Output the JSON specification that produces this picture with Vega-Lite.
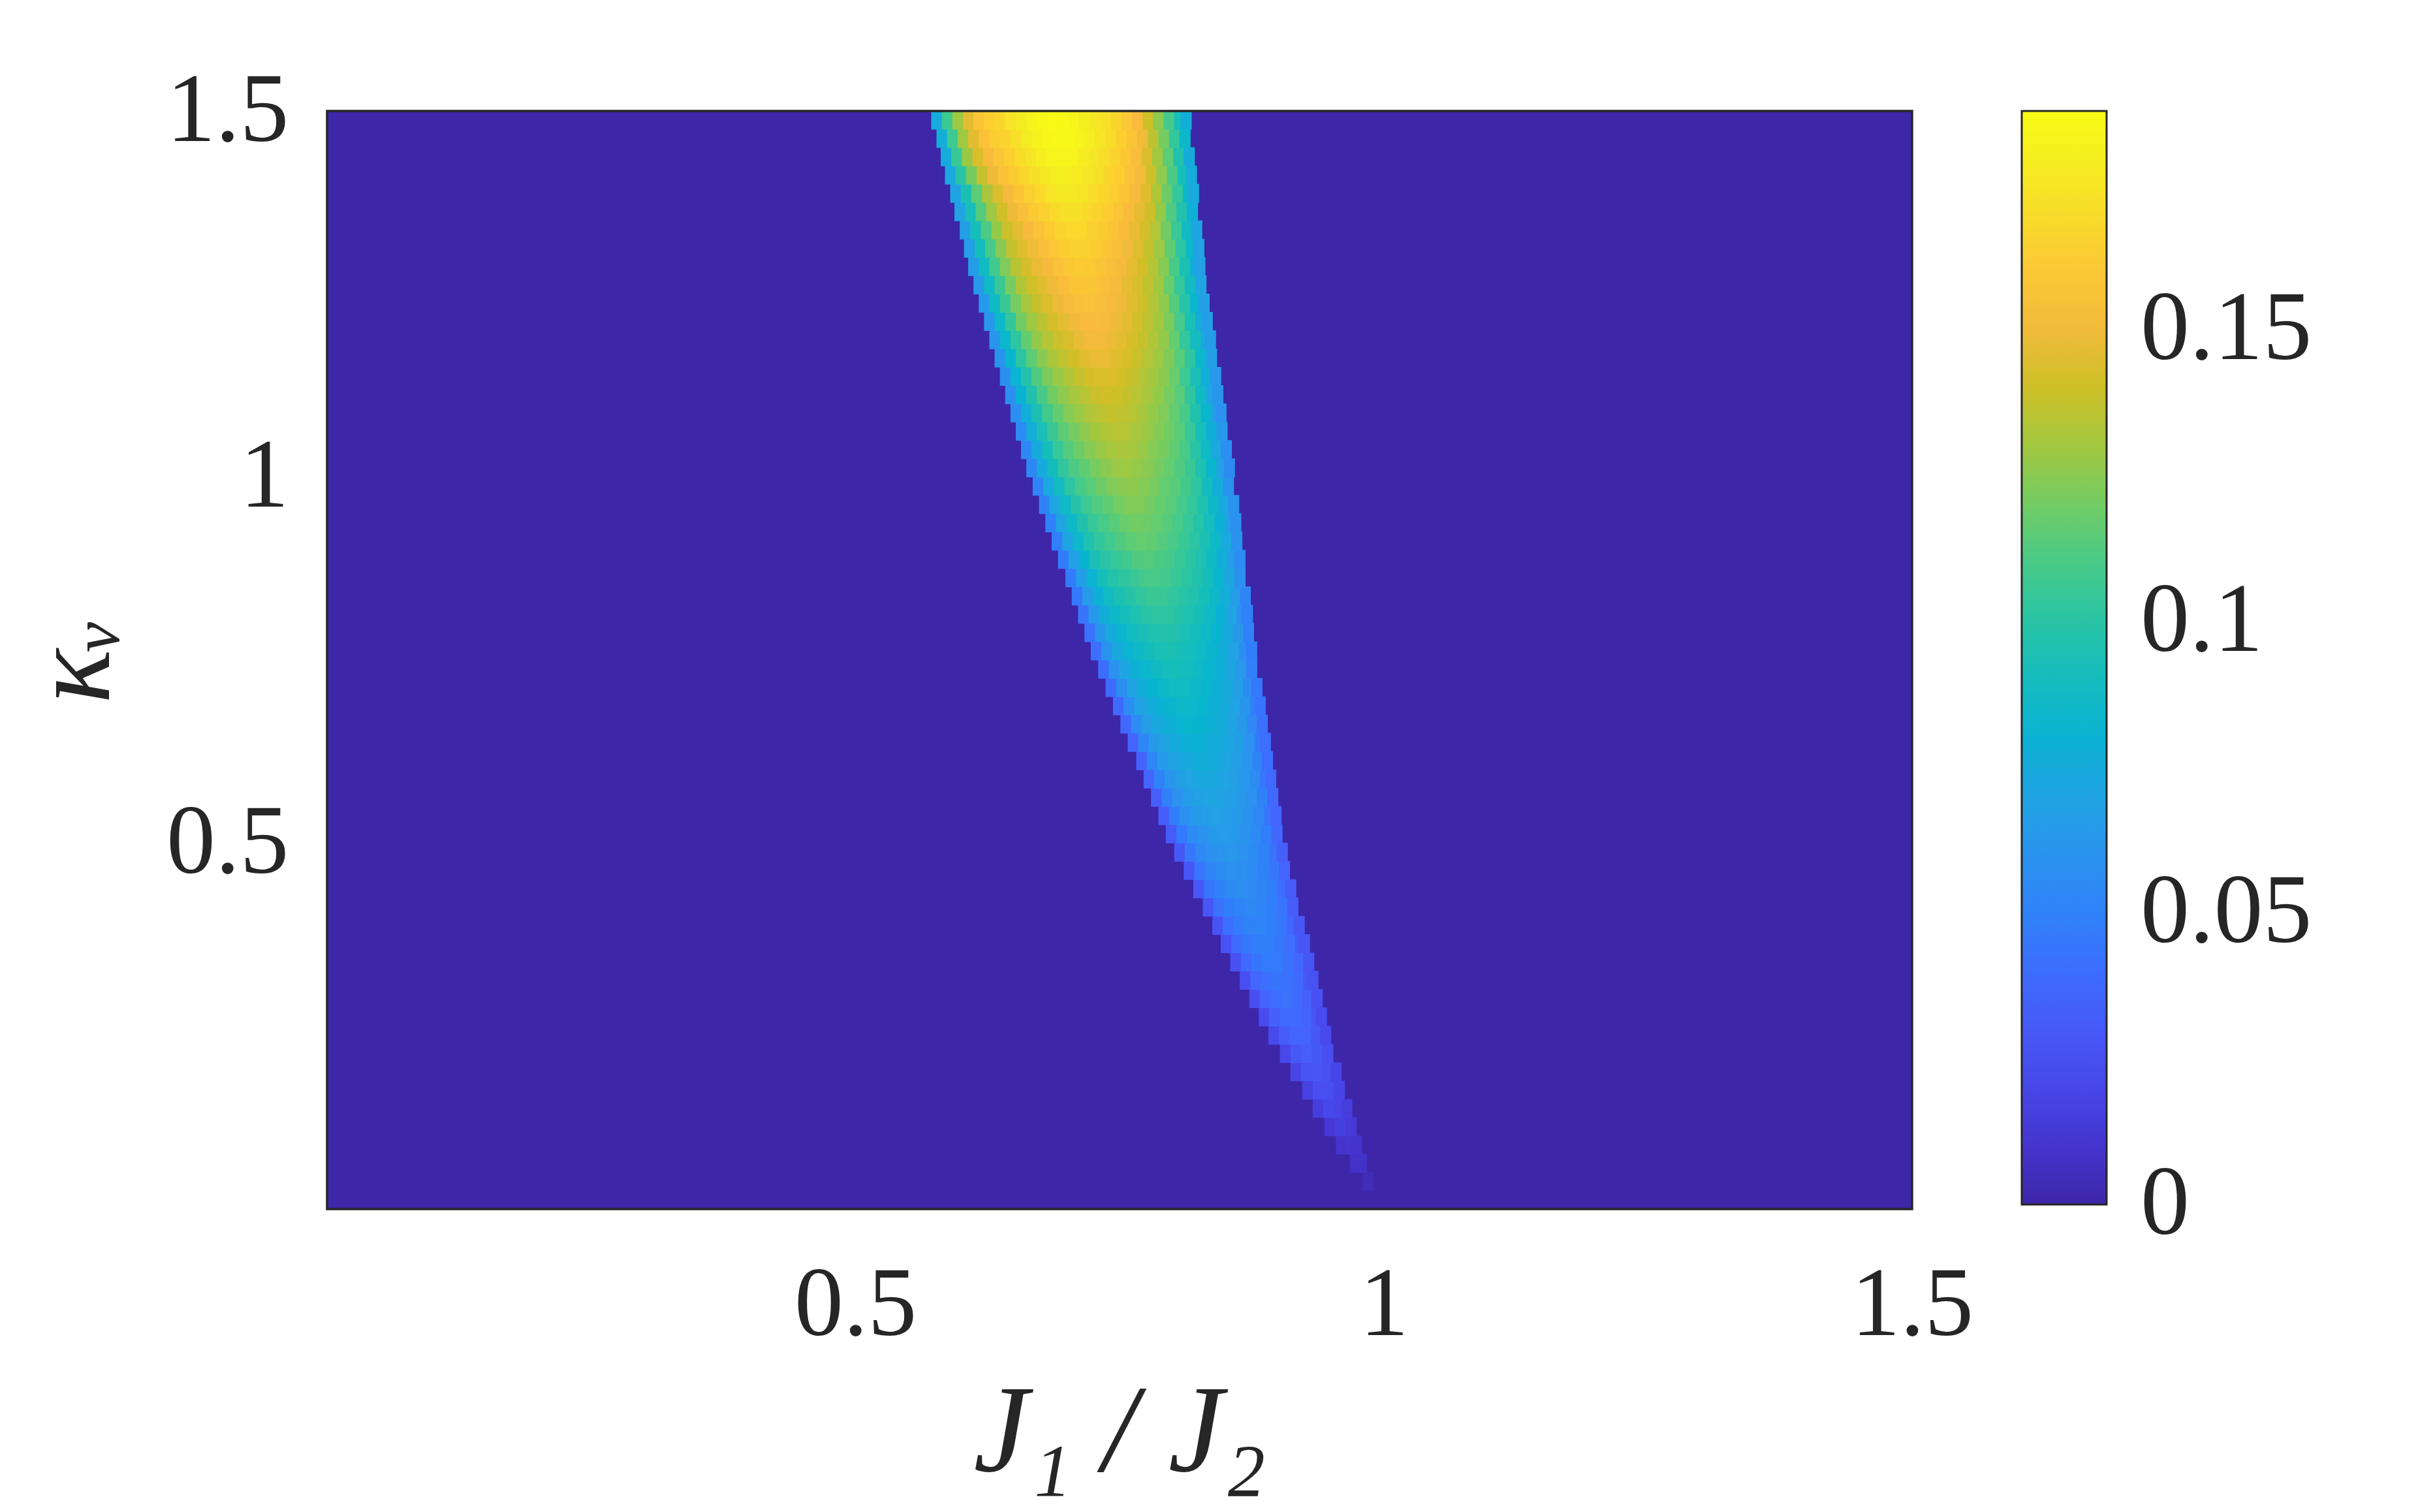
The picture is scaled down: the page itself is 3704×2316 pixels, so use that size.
{
"$schema": "https://vega.github.io/schema/vega-lite/v6.json",
"width": 2428, "height": 1682,
"autosize": {"type": "none"},
"padding": {"left": 501, "top": 170, "right": 775, "bottom": 464},
"background": "white",
"config": {"view": {"stroke": null}, "font": "Liberation Serif"},
"datasets": {
"bg": [{"x":0,"x2":1.5,"y":0,"y2":1.5,"v":0}],
"cells": [
{"x":0.985,"y":0.0375,"v":0.004},
{"x":0.973,"y":0.0625,"v":0.008},{"x":0.979,"y":0.0625,"v":0.008},
{"x":0.960,"y":0.0875,"v":0.010},{"x":0.970,"y":0.0875,"v":0.011},{"x":0.974,"y":0.0875,"v":0.010},
{"x":0.949,"y":0.1125,"v":0.012},{"x":0.959,"y":0.1125,"v":0.016},{"x":0.969,"y":0.1125,"v":0.013},
{"x":0.938,"y":0.1375,"v":0.015},{"x":0.948,"y":0.1375,"v":0.021},{"x":0.958,"y":0.1375,"v":0.019},{"x":0.965,"y":0.1375,"v":0.015},
{"x":0.928,"y":0.1625,"v":0.017},{"x":0.938,"y":0.1625,"v":0.024},{"x":0.948,"y":0.1625,"v":0.024},{"x":0.958,"y":0.1625,"v":0.019},
{"x":0.917,"y":0.1875,"v":0.019},{"x":0.927,"y":0.1875,"v":0.027},{"x":0.937,"y":0.1875,"v":0.029},{"x":0.947,"y":0.1875,"v":0.025},{"x":0.955,"y":0.1875,"v":0.019},
{"x":0.907,"y":0.2125,"v":0.021},{"x":0.917,"y":0.2125,"v":0.030},{"x":0.927,"y":0.2125,"v":0.033},{"x":0.937,"y":0.2125,"v":0.030},{"x":0.947,"y":0.2125,"v":0.024},
{"x":0.896,"y":0.2375,"v":0.022},{"x":0.906,"y":0.2375,"v":0.032},{"x":0.916,"y":0.2375,"v":0.036},{"x":0.926,"y":0.2375,"v":0.035},{"x":0.936,"y":0.2375,"v":0.030},{"x":0.945,"y":0.2375,"v":0.022},
{"x":0.887,"y":0.2625,"v":0.023},{"x":0.897,"y":0.2625,"v":0.034},{"x":0.907,"y":0.2625,"v":0.038},{"x":0.917,"y":0.2625,"v":0.038},{"x":0.927,"y":0.2625,"v":0.035},{"x":0.937,"y":0.2625,"v":0.028},{"x":0.941,"y":0.2625,"v":0.023},
{"x":0.878,"y":0.2875,"v":0.024},{"x":0.888,"y":0.2875,"v":0.036},{"x":0.898,"y":0.2875,"v":0.040},{"x":0.908,"y":0.2875,"v":0.042},{"x":0.918,"y":0.2875,"v":0.039},{"x":0.928,"y":0.2875,"v":0.034},{"x":0.937,"y":0.2875,"v":0.025},
{"x":0.869,"y":0.3125,"v":0.024},{"x":0.879,"y":0.3125,"v":0.037},{"x":0.889,"y":0.3125,"v":0.041},{"x":0.899,"y":0.3125,"v":0.044},{"x":0.909,"y":0.3125,"v":0.042},{"x":0.919,"y":0.3125,"v":0.038},{"x":0.929,"y":0.3125,"v":0.030},{"x":0.933,"y":0.3125,"v":0.026},
{"x":0.860,"y":0.3375,"v":0.025},{"x":0.870,"y":0.3375,"v":0.038},{"x":0.880,"y":0.3375,"v":0.044},{"x":0.890,"y":0.3375,"v":0.047},{"x":0.900,"y":0.3375,"v":0.046},{"x":0.910,"y":0.3375,"v":0.042},{"x":0.920,"y":0.3375,"v":0.037},{"x":0.929,"y":0.3375,"v":0.027},
{"x":0.851,"y":0.3625,"v":0.026},{"x":0.861,"y":0.3625,"v":0.039},{"x":0.871,"y":0.3625,"v":0.045},{"x":0.881,"y":0.3625,"v":0.048},{"x":0.891,"y":0.3625,"v":0.048},{"x":0.901,"y":0.3625,"v":0.045},{"x":0.911,"y":0.3625,"v":0.041},{"x":0.921,"y":0.3625,"v":0.032},{"x":0.925,"y":0.3625,"v":0.028},
{"x":0.843,"y":0.3875,"v":0.027},{"x":0.853,"y":0.3875,"v":0.041},{"x":0.863,"y":0.3875,"v":0.047},{"x":0.873,"y":0.3875,"v":0.051},{"x":0.883,"y":0.3875,"v":0.052},{"x":0.893,"y":0.3875,"v":0.049},{"x":0.903,"y":0.3875,"v":0.045},{"x":0.913,"y":0.3875,"v":0.037},{"x":0.920,"y":0.3875,"v":0.029},
{"x":0.834,"y":0.4125,"v":0.028},{"x":0.844,"y":0.4125,"v":0.042},{"x":0.854,"y":0.4125,"v":0.048},{"x":0.864,"y":0.4125,"v":0.052},{"x":0.874,"y":0.4125,"v":0.054},{"x":0.884,"y":0.4125,"v":0.052},{"x":0.894,"y":0.4125,"v":0.048},{"x":0.904,"y":0.4125,"v":0.043},{"x":0.914,"y":0.4125,"v":0.032},
{"x":0.825,"y":0.4375,"v":0.029},{"x":0.835,"y":0.4375,"v":0.043},{"x":0.845,"y":0.4375,"v":0.051},{"x":0.855,"y":0.4375,"v":0.055},{"x":0.865,"y":0.4375,"v":0.057},{"x":0.875,"y":0.4375,"v":0.055},{"x":0.885,"y":0.4375,"v":0.052},{"x":0.895,"y":0.4375,"v":0.048},{"x":0.905,"y":0.4375,"v":0.040},{"x":0.912,"y":0.4375,"v":0.031},
{"x":0.816,"y":0.4625,"v":0.029},{"x":0.826,"y":0.4625,"v":0.044},{"x":0.836,"y":0.4625,"v":0.052},{"x":0.846,"y":0.4625,"v":0.056},{"x":0.856,"y":0.4625,"v":0.059},{"x":0.866,"y":0.4625,"v":0.058},{"x":0.876,"y":0.4625,"v":0.055},{"x":0.886,"y":0.4625,"v":0.051},{"x":0.896,"y":0.4625,"v":0.045},{"x":0.906,"y":0.4625,"v":0.035},
{"x":0.807,"y":0.4875,"v":0.030},{"x":0.817,"y":0.4875,"v":0.045},{"x":0.827,"y":0.4875,"v":0.054},{"x":0.837,"y":0.4875,"v":0.058},{"x":0.847,"y":0.4875,"v":0.061},{"x":0.857,"y":0.4875,"v":0.062},{"x":0.867,"y":0.4875,"v":0.059},{"x":0.877,"y":0.4875,"v":0.056},{"x":0.887,"y":0.4875,"v":0.051},{"x":0.897,"y":0.4875,"v":0.042},{"x":0.904,"y":0.4875,"v":0.033},
{"x":0.799,"y":0.5125,"v":0.031},{"x":0.809,"y":0.5125,"v":0.046},{"x":0.819,"y":0.5125,"v":0.055},{"x":0.829,"y":0.5125,"v":0.060},{"x":0.839,"y":0.5125,"v":0.064},{"x":0.849,"y":0.5125,"v":0.065},{"x":0.859,"y":0.5125,"v":0.063},{"x":0.869,"y":0.5125,"v":0.060},{"x":0.879,"y":0.5125,"v":0.055},{"x":0.889,"y":0.5125,"v":0.048},{"x":0.899,"y":0.5125,"v":0.037},
{"x":0.792,"y":0.5375,"v":0.032},{"x":0.802,"y":0.5375,"v":0.048},{"x":0.812,"y":0.5375,"v":0.058},{"x":0.822,"y":0.5375,"v":0.063},{"x":0.832,"y":0.5375,"v":0.066},{"x":0.842,"y":0.5375,"v":0.068},{"x":0.852,"y":0.5375,"v":0.066},{"x":0.862,"y":0.5375,"v":0.063},{"x":0.872,"y":0.5375,"v":0.059},{"x":0.882,"y":0.5375,"v":0.053},{"x":0.892,"y":0.5375,"v":0.043},{"x":0.898,"y":0.5375,"v":0.036},
{"x":0.785,"y":0.5625,"v":0.033},{"x":0.795,"y":0.5625,"v":0.049},{"x":0.805,"y":0.5625,"v":0.059},{"x":0.815,"y":0.5625,"v":0.065},{"x":0.825,"y":0.5625,"v":0.068},{"x":0.835,"y":0.5625,"v":0.071},{"x":0.845,"y":0.5625,"v":0.070},{"x":0.855,"y":0.5625,"v":0.067},{"x":0.865,"y":0.5625,"v":0.064},{"x":0.875,"y":0.5625,"v":0.059},{"x":0.885,"y":0.5625,"v":0.050},{"x":0.895,"y":0.5625,"v":0.038},
{"x":0.778,"y":0.5875,"v":0.035},{"x":0.788,"y":0.5875,"v":0.051},{"x":0.798,"y":0.5875,"v":0.061},{"x":0.808,"y":0.5875,"v":0.067},{"x":0.818,"y":0.5875,"v":0.071},{"x":0.828,"y":0.5875,"v":0.074},{"x":0.838,"y":0.5875,"v":0.073},{"x":0.848,"y":0.5875,"v":0.071},{"x":0.858,"y":0.5875,"v":0.067},{"x":0.868,"y":0.5875,"v":0.063},{"x":0.878,"y":0.5875,"v":0.056},{"x":0.888,"y":0.5875,"v":0.045},{"x":0.893,"y":0.5875,"v":0.038},
{"x":0.771,"y":0.6125,"v":0.035},{"x":0.781,"y":0.6125,"v":0.052},{"x":0.791,"y":0.6125,"v":0.063},{"x":0.801,"y":0.6125,"v":0.069},{"x":0.811,"y":0.6125,"v":0.073},{"x":0.821,"y":0.6125,"v":0.076},{"x":0.831,"y":0.6125,"v":0.077},{"x":0.841,"y":0.6125,"v":0.075},{"x":0.851,"y":0.6125,"v":0.071},{"x":0.861,"y":0.6125,"v":0.067},{"x":0.871,"y":0.6125,"v":0.061},{"x":0.881,"y":0.6125,"v":0.051},{"x":0.890,"y":0.6125,"v":0.040},
{"x":0.763,"y":0.6375,"v":0.036},{"x":0.773,"y":0.6375,"v":0.053},{"x":0.783,"y":0.6375,"v":0.064},{"x":0.793,"y":0.6375,"v":0.071},{"x":0.803,"y":0.6375,"v":0.075},{"x":0.813,"y":0.6375,"v":0.079},{"x":0.823,"y":0.6375,"v":0.080},{"x":0.833,"y":0.6375,"v":0.078},{"x":0.843,"y":0.6375,"v":0.075},{"x":0.853,"y":0.6375,"v":0.072},{"x":0.863,"y":0.6375,"v":0.067},{"x":0.873,"y":0.6375,"v":0.059},{"x":0.883,"y":0.6375,"v":0.047},{"x":0.888,"y":0.6375,"v":0.041},
{"x":0.756,"y":0.6625,"v":0.037},{"x":0.766,"y":0.6625,"v":0.055},{"x":0.776,"y":0.6625,"v":0.066},{"x":0.786,"y":0.6625,"v":0.073},{"x":0.796,"y":0.6625,"v":0.078},{"x":0.806,"y":0.6625,"v":0.081},{"x":0.816,"y":0.6625,"v":0.083},{"x":0.826,"y":0.6625,"v":0.082},{"x":0.836,"y":0.6625,"v":0.079},{"x":0.846,"y":0.6625,"v":0.076},{"x":0.856,"y":0.6625,"v":0.071},{"x":0.866,"y":0.6625,"v":0.064},{"x":0.876,"y":0.6625,"v":0.054},{"x":0.885,"y":0.6625,"v":0.042},
{"x":0.749,"y":0.6875,"v":0.038},{"x":0.759,"y":0.6875,"v":0.056},{"x":0.769,"y":0.6875,"v":0.068},{"x":0.779,"y":0.6875,"v":0.075},{"x":0.789,"y":0.6875,"v":0.080},{"x":0.799,"y":0.6875,"v":0.083},{"x":0.809,"y":0.6875,"v":0.086},{"x":0.819,"y":0.6875,"v":0.085},{"x":0.829,"y":0.6875,"v":0.083},{"x":0.839,"y":0.6875,"v":0.079},{"x":0.849,"y":0.6875,"v":0.075},{"x":0.859,"y":0.6875,"v":0.070},{"x":0.869,"y":0.6875,"v":0.061},{"x":0.879,"y":0.6875,"v":0.049},{"x":0.883,"y":0.6875,"v":0.044},
{"x":0.742,"y":0.7125,"v":0.039},{"x":0.752,"y":0.7125,"v":0.057},{"x":0.762,"y":0.7125,"v":0.069},{"x":0.772,"y":0.7125,"v":0.077},{"x":0.782,"y":0.7125,"v":0.082},{"x":0.792,"y":0.7125,"v":0.086},{"x":0.802,"y":0.7125,"v":0.089},{"x":0.812,"y":0.7125,"v":0.089},{"x":0.822,"y":0.7125,"v":0.086},{"x":0.832,"y":0.7125,"v":0.083},{"x":0.842,"y":0.7125,"v":0.079},{"x":0.852,"y":0.7125,"v":0.075},{"x":0.862,"y":0.7125,"v":0.067},{"x":0.872,"y":0.7125,"v":0.056},{"x":0.880,"y":0.7125,"v":0.045},
{"x":0.735,"y":0.7375,"v":0.040},{"x":0.745,"y":0.7375,"v":0.059},{"x":0.755,"y":0.7375,"v":0.071},{"x":0.765,"y":0.7375,"v":0.079},{"x":0.775,"y":0.7375,"v":0.084},{"x":0.785,"y":0.7375,"v":0.088},{"x":0.795,"y":0.7375,"v":0.091},{"x":0.805,"y":0.7375,"v":0.092},{"x":0.815,"y":0.7375,"v":0.090},{"x":0.825,"y":0.7375,"v":0.087},{"x":0.835,"y":0.7375,"v":0.083},{"x":0.845,"y":0.7375,"v":0.079},{"x":0.855,"y":0.7375,"v":0.072},{"x":0.865,"y":0.7375,"v":0.062},{"x":0.875,"y":0.7375,"v":0.049},
{"x":0.728,"y":0.7625,"v":0.041},{"x":0.738,"y":0.7625,"v":0.060},{"x":0.748,"y":0.7625,"v":0.073},{"x":0.758,"y":0.7625,"v":0.081},{"x":0.768,"y":0.7625,"v":0.086},{"x":0.778,"y":0.7625,"v":0.090},{"x":0.788,"y":0.7625,"v":0.094},{"x":0.798,"y":0.7625,"v":0.095},{"x":0.808,"y":0.7625,"v":0.093},{"x":0.818,"y":0.7625,"v":0.091},{"x":0.828,"y":0.7625,"v":0.087},{"x":0.838,"y":0.7625,"v":0.083},{"x":0.848,"y":0.7625,"v":0.077},{"x":0.858,"y":0.7625,"v":0.069},{"x":0.868,"y":0.7625,"v":0.057},{"x":0.875,"y":0.7625,"v":0.048},
{"x":0.722,"y":0.7875,"v":0.042},{"x":0.732,"y":0.7875,"v":0.061},{"x":0.742,"y":0.7875,"v":0.074},{"x":0.752,"y":0.7875,"v":0.083},{"x":0.762,"y":0.7875,"v":0.089},{"x":0.772,"y":0.7875,"v":0.093},{"x":0.782,"y":0.7875,"v":0.096},{"x":0.792,"y":0.7875,"v":0.098},{"x":0.802,"y":0.7875,"v":0.097},{"x":0.812,"y":0.7875,"v":0.094},{"x":0.822,"y":0.7875,"v":0.091},{"x":0.832,"y":0.7875,"v":0.087},{"x":0.842,"y":0.7875,"v":0.082},{"x":0.852,"y":0.7875,"v":0.074},{"x":0.862,"y":0.7875,"v":0.064},{"x":0.872,"y":0.7875,"v":0.050},
{"x":0.716,"y":0.8125,"v":0.044},{"x":0.726,"y":0.8125,"v":0.063},{"x":0.736,"y":0.8125,"v":0.077},{"x":0.746,"y":0.8125,"v":0.086},{"x":0.756,"y":0.8125,"v":0.092},{"x":0.766,"y":0.8125,"v":0.096},{"x":0.776,"y":0.8125,"v":0.100},{"x":0.786,"y":0.8125,"v":0.102},{"x":0.796,"y":0.8125,"v":0.101},{"x":0.806,"y":0.8125,"v":0.099},{"x":0.816,"y":0.8125,"v":0.096},{"x":0.826,"y":0.8125,"v":0.092},{"x":0.836,"y":0.8125,"v":0.087},{"x":0.846,"y":0.8125,"v":0.080},{"x":0.856,"y":0.8125,"v":0.070},{"x":0.866,"y":0.8125,"v":0.058},{"x":0.871,"y":0.8125,"v":0.050},
{"x":0.710,"y":0.8375,"v":0.045},{"x":0.720,"y":0.8375,"v":0.065},{"x":0.730,"y":0.8375,"v":0.079},{"x":0.740,"y":0.8375,"v":0.089},{"x":0.750,"y":0.8375,"v":0.095},{"x":0.760,"y":0.8375,"v":0.099},{"x":0.770,"y":0.8375,"v":0.103},{"x":0.780,"y":0.8375,"v":0.106},{"x":0.790,"y":0.8375,"v":0.106},{"x":0.800,"y":0.8375,"v":0.103},{"x":0.810,"y":0.8375,"v":0.100},{"x":0.820,"y":0.8375,"v":0.097},{"x":0.830,"y":0.8375,"v":0.092},{"x":0.840,"y":0.8375,"v":0.086},{"x":0.850,"y":0.8375,"v":0.077},{"x":0.860,"y":0.8375,"v":0.065},{"x":0.869,"y":0.8375,"v":0.052},
{"x":0.704,"y":0.8625,"v":0.047},{"x":0.714,"y":0.8625,"v":0.066},{"x":0.724,"y":0.8625,"v":0.081},{"x":0.734,"y":0.8625,"v":0.092},{"x":0.744,"y":0.8625,"v":0.098},{"x":0.754,"y":0.8625,"v":0.102},{"x":0.764,"y":0.8625,"v":0.106},{"x":0.774,"y":0.8625,"v":0.109},{"x":0.784,"y":0.8625,"v":0.110},{"x":0.794,"y":0.8625,"v":0.108},{"x":0.804,"y":0.8625,"v":0.105},{"x":0.814,"y":0.8625,"v":0.101},{"x":0.824,"y":0.8625,"v":0.097},{"x":0.834,"y":0.8625,"v":0.091},{"x":0.844,"y":0.8625,"v":0.083},{"x":0.854,"y":0.8625,"v":0.072},{"x":0.864,"y":0.8625,"v":0.058},
{"x":0.697,"y":0.8875,"v":0.047},{"x":0.707,"y":0.8875,"v":0.068},{"x":0.717,"y":0.8875,"v":0.082},{"x":0.727,"y":0.8875,"v":0.094},{"x":0.737,"y":0.8875,"v":0.100},{"x":0.747,"y":0.8875,"v":0.105},{"x":0.757,"y":0.8875,"v":0.108},{"x":0.767,"y":0.8875,"v":0.112},{"x":0.777,"y":0.8875,"v":0.113},{"x":0.787,"y":0.8875,"v":0.111},{"x":0.797,"y":0.8875,"v":0.109},{"x":0.807,"y":0.8875,"v":0.105},{"x":0.817,"y":0.8875,"v":0.101},{"x":0.827,"y":0.8875,"v":0.096},{"x":0.837,"y":0.8875,"v":0.088},{"x":0.847,"y":0.8875,"v":0.078},{"x":0.857,"y":0.8875,"v":0.066},{"x":0.864,"y":0.8875,"v":0.055},
{"x":0.691,"y":0.9125,"v":0.049},{"x":0.701,"y":0.9125,"v":0.070},{"x":0.711,"y":0.9125,"v":0.085},{"x":0.721,"y":0.9125,"v":0.096},{"x":0.731,"y":0.9125,"v":0.103},{"x":0.741,"y":0.9125,"v":0.108},{"x":0.751,"y":0.9125,"v":0.112},{"x":0.761,"y":0.9125,"v":0.115},{"x":0.771,"y":0.9125,"v":0.117},{"x":0.781,"y":0.9125,"v":0.116},{"x":0.791,"y":0.9125,"v":0.113},{"x":0.801,"y":0.9125,"v":0.110},{"x":0.811,"y":0.9125,"v":0.106},{"x":0.821,"y":0.9125,"v":0.101},{"x":0.831,"y":0.9125,"v":0.095},{"x":0.841,"y":0.9125,"v":0.086},{"x":0.851,"y":0.9125,"v":0.073},{"x":0.861,"y":0.9125,"v":0.059},
{"x":0.685,"y":0.9375,"v":0.050},{"x":0.695,"y":0.9375,"v":0.070},{"x":0.705,"y":0.9375,"v":0.086},{"x":0.715,"y":0.9375,"v":0.097},{"x":0.725,"y":0.9375,"v":0.105},{"x":0.735,"y":0.9375,"v":0.110},{"x":0.745,"y":0.9375,"v":0.114},{"x":0.755,"y":0.9375,"v":0.118},{"x":0.765,"y":0.9375,"v":0.120},{"x":0.775,"y":0.9375,"v":0.119},{"x":0.785,"y":0.9375,"v":0.117},{"x":0.795,"y":0.9375,"v":0.114},{"x":0.805,"y":0.9375,"v":0.110},{"x":0.815,"y":0.9375,"v":0.105},{"x":0.825,"y":0.9375,"v":0.099},{"x":0.835,"y":0.9375,"v":0.091},{"x":0.845,"y":0.9375,"v":0.080},{"x":0.855,"y":0.9375,"v":0.066},{"x":0.860,"y":0.9375,"v":0.058},
{"x":0.679,"y":0.9625,"v":0.051},{"x":0.689,"y":0.9625,"v":0.071},{"x":0.699,"y":0.9625,"v":0.087},{"x":0.709,"y":0.9625,"v":0.099},{"x":0.719,"y":0.9625,"v":0.107},{"x":0.729,"y":0.9625,"v":0.112},{"x":0.739,"y":0.9625,"v":0.116},{"x":0.749,"y":0.9625,"v":0.120},{"x":0.759,"y":0.9625,"v":0.123},{"x":0.769,"y":0.9625,"v":0.123},{"x":0.779,"y":0.9625,"v":0.120},{"x":0.789,"y":0.9625,"v":0.117},{"x":0.799,"y":0.9625,"v":0.114},{"x":0.809,"y":0.9625,"v":0.109},{"x":0.819,"y":0.9625,"v":0.104},{"x":0.829,"y":0.9625,"v":0.096},{"x":0.839,"y":0.9625,"v":0.086},{"x":0.849,"y":0.9625,"v":0.073},{"x":0.858,"y":0.9625,"v":0.060},
{"x":0.673,"y":0.9875,"v":0.052},{"x":0.683,"y":0.9875,"v":0.073},{"x":0.693,"y":0.9875,"v":0.089},{"x":0.703,"y":0.9875,"v":0.101},{"x":0.713,"y":0.9875,"v":0.109},{"x":0.723,"y":0.9875,"v":0.114},{"x":0.733,"y":0.9875,"v":0.119},{"x":0.743,"y":0.9875,"v":0.123},{"x":0.753,"y":0.9875,"v":0.125},{"x":0.763,"y":0.9875,"v":0.126},{"x":0.773,"y":0.9875,"v":0.124},{"x":0.783,"y":0.9875,"v":0.121},{"x":0.793,"y":0.9875,"v":0.117},{"x":0.803,"y":0.9875,"v":0.114},{"x":0.813,"y":0.9875,"v":0.108},{"x":0.823,"y":0.9875,"v":0.102},{"x":0.833,"y":0.9875,"v":0.090},{"x":0.843,"y":0.9875,"v":0.076},{"x":0.853,"y":0.9875,"v":0.060},
{"x":0.667,"y":1.0125,"v":0.053},{"x":0.677,"y":1.0125,"v":0.074},{"x":0.687,"y":1.0125,"v":0.090},{"x":0.697,"y":1.0125,"v":0.103},{"x":0.707,"y":1.0125,"v":0.111},{"x":0.717,"y":1.0125,"v":0.116},{"x":0.727,"y":1.0125,"v":0.121},{"x":0.737,"y":1.0125,"v":0.125},{"x":0.747,"y":1.0125,"v":0.128},{"x":0.757,"y":1.0125,"v":0.129},{"x":0.767,"y":1.0125,"v":0.127},{"x":0.777,"y":1.0125,"v":0.125},{"x":0.787,"y":1.0125,"v":0.121},{"x":0.797,"y":1.0125,"v":0.117},{"x":0.807,"y":1.0125,"v":0.112},{"x":0.817,"y":1.0125,"v":0.106},{"x":0.827,"y":1.0125,"v":0.096},{"x":0.837,"y":1.0125,"v":0.083},{"x":0.847,"y":1.0125,"v":0.068},{"x":0.854,"y":1.0125,"v":0.055},
{"x":0.662,"y":1.0375,"v":0.054},{"x":0.672,"y":1.0375,"v":0.075},{"x":0.682,"y":1.0375,"v":0.092},{"x":0.692,"y":1.0375,"v":0.105},{"x":0.702,"y":1.0375,"v":0.113},{"x":0.712,"y":1.0375,"v":0.119},{"x":0.722,"y":1.0375,"v":0.124},{"x":0.732,"y":1.0375,"v":0.128},{"x":0.742,"y":1.0375,"v":0.131},{"x":0.752,"y":1.0375,"v":0.132},{"x":0.762,"y":1.0375,"v":0.131},{"x":0.772,"y":1.0375,"v":0.128},{"x":0.782,"y":1.0375,"v":0.124},{"x":0.792,"y":1.0375,"v":0.121},{"x":0.802,"y":1.0375,"v":0.116},{"x":0.812,"y":1.0375,"v":0.110},{"x":0.822,"y":1.0375,"v":0.100},{"x":0.832,"y":1.0375,"v":0.087},{"x":0.842,"y":1.0375,"v":0.072},{"x":0.851,"y":1.0375,"v":0.057},
{"x":0.657,"y":1.0625,"v":0.055},{"x":0.667,"y":1.0625,"v":0.077},{"x":0.677,"y":1.0625,"v":0.094},{"x":0.687,"y":1.0625,"v":0.106},{"x":0.697,"y":1.0625,"v":0.115},{"x":0.707,"y":1.0625,"v":0.121},{"x":0.717,"y":1.0625,"v":0.126},{"x":0.727,"y":1.0625,"v":0.130},{"x":0.737,"y":1.0625,"v":0.133},{"x":0.747,"y":1.0625,"v":0.135},{"x":0.757,"y":1.0625,"v":0.134},{"x":0.767,"y":1.0625,"v":0.131},{"x":0.777,"y":1.0625,"v":0.128},{"x":0.787,"y":1.0625,"v":0.124},{"x":0.797,"y":1.0625,"v":0.120},{"x":0.807,"y":1.0625,"v":0.114},{"x":0.817,"y":1.0625,"v":0.105},{"x":0.827,"y":1.0625,"v":0.093},{"x":0.837,"y":1.0625,"v":0.079},{"x":0.847,"y":1.0625,"v":0.063},
{"x":0.652,"y":1.0875,"v":0.057},{"x":0.662,"y":1.0875,"v":0.078},{"x":0.672,"y":1.0875,"v":0.095},{"x":0.682,"y":1.0875,"v":0.108},{"x":0.692,"y":1.0875,"v":0.117},{"x":0.702,"y":1.0875,"v":0.124},{"x":0.712,"y":1.0875,"v":0.128},{"x":0.722,"y":1.0875,"v":0.133},{"x":0.732,"y":1.0875,"v":0.136},{"x":0.742,"y":1.0875,"v":0.138},{"x":0.752,"y":1.0875,"v":0.137},{"x":0.762,"y":1.0875,"v":0.135},{"x":0.772,"y":1.0875,"v":0.131},{"x":0.782,"y":1.0875,"v":0.127},{"x":0.792,"y":1.0875,"v":0.123},{"x":0.802,"y":1.0875,"v":0.117},{"x":0.812,"y":1.0875,"v":0.110},{"x":0.822,"y":1.0875,"v":0.097},{"x":0.832,"y":1.0875,"v":0.083},{"x":0.842,"y":1.0875,"v":0.067},{"x":0.846,"y":1.0875,"v":0.059},
{"x":0.647,"y":1.1125,"v":0.057},{"x":0.657,"y":1.1125,"v":0.080},{"x":0.667,"y":1.1125,"v":0.097},{"x":0.677,"y":1.1125,"v":0.110},{"x":0.687,"y":1.1125,"v":0.120},{"x":0.697,"y":1.1125,"v":0.126},{"x":0.707,"y":1.1125,"v":0.131},{"x":0.717,"y":1.1125,"v":0.135},{"x":0.727,"y":1.1125,"v":0.139},{"x":0.737,"y":1.1125,"v":0.141},{"x":0.747,"y":1.1125,"v":0.140},{"x":0.757,"y":1.1125,"v":0.138},{"x":0.767,"y":1.1125,"v":0.135},{"x":0.777,"y":1.1125,"v":0.131},{"x":0.787,"y":1.1125,"v":0.127},{"x":0.797,"y":1.1125,"v":0.121},{"x":0.807,"y":1.1125,"v":0.114},{"x":0.817,"y":1.1125,"v":0.102},{"x":0.827,"y":1.1125,"v":0.088},{"x":0.837,"y":1.1125,"v":0.071},{"x":0.843,"y":1.1125,"v":0.061},
{"x":0.642,"y":1.1375,"v":0.058},{"x":0.652,"y":1.1375,"v":0.081},{"x":0.662,"y":1.1375,"v":0.098},{"x":0.672,"y":1.1375,"v":0.112},{"x":0.682,"y":1.1375,"v":0.122},{"x":0.692,"y":1.1375,"v":0.128},{"x":0.702,"y":1.1375,"v":0.133},{"x":0.712,"y":1.1375,"v":0.138},{"x":0.722,"y":1.1375,"v":0.142},{"x":0.732,"y":1.1375,"v":0.144},{"x":0.742,"y":1.1375,"v":0.144},{"x":0.752,"y":1.1375,"v":0.141},{"x":0.762,"y":1.1375,"v":0.138},{"x":0.772,"y":1.1375,"v":0.134},{"x":0.782,"y":1.1375,"v":0.130},{"x":0.792,"y":1.1375,"v":0.125},{"x":0.802,"y":1.1375,"v":0.118},{"x":0.812,"y":1.1375,"v":0.107},{"x":0.822,"y":1.1375,"v":0.094},{"x":0.832,"y":1.1375,"v":0.078},{"x":0.841,"y":1.1375,"v":0.062},
{"x":0.637,"y":1.1625,"v":0.060},{"x":0.647,"y":1.1625,"v":0.083},{"x":0.657,"y":1.1625,"v":0.101},{"x":0.667,"y":1.1625,"v":0.115},{"x":0.677,"y":1.1625,"v":0.125},{"x":0.687,"y":1.1625,"v":0.132},{"x":0.697,"y":1.1625,"v":0.137},{"x":0.707,"y":1.1625,"v":0.141},{"x":0.717,"y":1.1625,"v":0.145},{"x":0.727,"y":1.1625,"v":0.148},{"x":0.737,"y":1.1625,"v":0.148},{"x":0.747,"y":1.1625,"v":0.145},{"x":0.757,"y":1.1625,"v":0.143},{"x":0.767,"y":1.1625,"v":0.139},{"x":0.777,"y":1.1625,"v":0.134},{"x":0.787,"y":1.1625,"v":0.129},{"x":0.797,"y":1.1625,"v":0.123},{"x":0.807,"y":1.1625,"v":0.114},{"x":0.817,"y":1.1625,"v":0.102},{"x":0.827,"y":1.1625,"v":0.085},{"x":0.837,"y":1.1625,"v":0.067},
{"x":0.632,"y":1.1875,"v":0.061},{"x":0.642,"y":1.1875,"v":0.084},{"x":0.652,"y":1.1875,"v":0.102},{"x":0.662,"y":1.1875,"v":0.117},{"x":0.672,"y":1.1875,"v":0.127},{"x":0.682,"y":1.1875,"v":0.134},{"x":0.692,"y":1.1875,"v":0.139},{"x":0.702,"y":1.1875,"v":0.143},{"x":0.712,"y":1.1875,"v":0.148},{"x":0.722,"y":1.1875,"v":0.151},{"x":0.732,"y":1.1875,"v":0.151},{"x":0.742,"y":1.1875,"v":0.149},{"x":0.752,"y":1.1875,"v":0.146},{"x":0.762,"y":1.1875,"v":0.142},{"x":0.772,"y":1.1875,"v":0.138},{"x":0.782,"y":1.1875,"v":0.133},{"x":0.792,"y":1.1875,"v":0.127},{"x":0.802,"y":1.1875,"v":0.117},{"x":0.812,"y":1.1875,"v":0.104},{"x":0.822,"y":1.1875,"v":0.090},{"x":0.832,"y":1.1875,"v":0.073},{"x":0.836,"y":1.1875,"v":0.065},
{"x":0.627,"y":1.2125,"v":0.062},{"x":0.637,"y":1.2125,"v":0.085},{"x":0.647,"y":1.2125,"v":0.104},{"x":0.657,"y":1.2125,"v":0.120},{"x":0.667,"y":1.2125,"v":0.129},{"x":0.677,"y":1.2125,"v":0.136},{"x":0.687,"y":1.2125,"v":0.142},{"x":0.697,"y":1.2125,"v":0.146},{"x":0.707,"y":1.2125,"v":0.150},{"x":0.717,"y":1.2125,"v":0.153},{"x":0.727,"y":1.2125,"v":0.154},{"x":0.737,"y":1.2125,"v":0.152},{"x":0.747,"y":1.2125,"v":0.149},{"x":0.757,"y":1.2125,"v":0.146},{"x":0.767,"y":1.2125,"v":0.141},{"x":0.777,"y":1.2125,"v":0.136},{"x":0.787,"y":1.2125,"v":0.130},{"x":0.797,"y":1.2125,"v":0.122},{"x":0.807,"y":1.2125,"v":0.109},{"x":0.817,"y":1.2125,"v":0.094},{"x":0.827,"y":1.2125,"v":0.077},{"x":0.833,"y":1.2125,"v":0.066},
{"x":0.622,"y":1.2375,"v":0.063},{"x":0.632,"y":1.2375,"v":0.087},{"x":0.642,"y":1.2375,"v":0.106},{"x":0.652,"y":1.2375,"v":0.121},{"x":0.662,"y":1.2375,"v":0.131},{"x":0.672,"y":1.2375,"v":0.138},{"x":0.682,"y":1.2375,"v":0.144},{"x":0.692,"y":1.2375,"v":0.149},{"x":0.702,"y":1.2375,"v":0.153},{"x":0.712,"y":1.2375,"v":0.156},{"x":0.722,"y":1.2375,"v":0.157},{"x":0.732,"y":1.2375,"v":0.155},{"x":0.742,"y":1.2375,"v":0.152},{"x":0.752,"y":1.2375,"v":0.149},{"x":0.762,"y":1.2375,"v":0.145},{"x":0.772,"y":1.2375,"v":0.140},{"x":0.782,"y":1.2375,"v":0.134},{"x":0.792,"y":1.2375,"v":0.126},{"x":0.802,"y":1.2375,"v":0.113},{"x":0.812,"y":1.2375,"v":0.099},{"x":0.822,"y":1.2375,"v":0.082},{"x":0.830,"y":1.2375,"v":0.067},
{"x":0.617,"y":1.2625,"v":0.064},{"x":0.627,"y":1.2625,"v":0.087},{"x":0.637,"y":1.2625,"v":0.106},{"x":0.647,"y":1.2625,"v":0.121},{"x":0.657,"y":1.2625,"v":0.133},{"x":0.667,"y":1.2625,"v":0.140},{"x":0.677,"y":1.2625,"v":0.145},{"x":0.687,"y":1.2625,"v":0.150},{"x":0.697,"y":1.2625,"v":0.154},{"x":0.707,"y":1.2625,"v":0.158},{"x":0.717,"y":1.2625,"v":0.159},{"x":0.727,"y":1.2625,"v":0.158},{"x":0.737,"y":1.2625,"v":0.155},{"x":0.747,"y":1.2625,"v":0.152},{"x":0.757,"y":1.2625,"v":0.147},{"x":0.767,"y":1.2625,"v":0.143},{"x":0.777,"y":1.2625,"v":0.137},{"x":0.787,"y":1.2625,"v":0.130},{"x":0.797,"y":1.2625,"v":0.118},{"x":0.807,"y":1.2625,"v":0.104},{"x":0.817,"y":1.2625,"v":0.089},{"x":0.827,"y":1.2625,"v":0.071},
{"x":0.612,"y":1.2875,"v":0.065},{"x":0.622,"y":1.2875,"v":0.089},{"x":0.632,"y":1.2875,"v":0.108},{"x":0.642,"y":1.2875,"v":0.123},{"x":0.652,"y":1.2875,"v":0.135},{"x":0.662,"y":1.2875,"v":0.142},{"x":0.672,"y":1.2875,"v":0.148},{"x":0.682,"y":1.2875,"v":0.152},{"x":0.692,"y":1.2875,"v":0.157},{"x":0.702,"y":1.2875,"v":0.160},{"x":0.712,"y":1.2875,"v":0.162},{"x":0.722,"y":1.2875,"v":0.161},{"x":0.732,"y":1.2875,"v":0.158},{"x":0.742,"y":1.2875,"v":0.155},{"x":0.752,"y":1.2875,"v":0.151},{"x":0.762,"y":1.2875,"v":0.147},{"x":0.772,"y":1.2875,"v":0.141},{"x":0.782,"y":1.2875,"v":0.134},{"x":0.792,"y":1.2875,"v":0.124},{"x":0.802,"y":1.2875,"v":0.110},{"x":0.812,"y":1.2875,"v":0.095},{"x":0.822,"y":1.2875,"v":0.077},{"x":0.826,"y":1.2875,"v":0.068},
{"x":0.608,"y":1.3125,"v":0.066},{"x":0.618,"y":1.3125,"v":0.090},{"x":0.628,"y":1.3125,"v":0.109},{"x":0.638,"y":1.3125,"v":0.125},{"x":0.648,"y":1.3125,"v":0.137},{"x":0.658,"y":1.3125,"v":0.144},{"x":0.668,"y":1.3125,"v":0.150},{"x":0.678,"y":1.3125,"v":0.155},{"x":0.688,"y":1.3125,"v":0.159},{"x":0.698,"y":1.3125,"v":0.163},{"x":0.708,"y":1.3125,"v":0.165},{"x":0.718,"y":1.3125,"v":0.165},{"x":0.728,"y":1.3125,"v":0.162},{"x":0.738,"y":1.3125,"v":0.159},{"x":0.748,"y":1.3125,"v":0.155},{"x":0.758,"y":1.3125,"v":0.150},{"x":0.768,"y":1.3125,"v":0.145},{"x":0.778,"y":1.3125,"v":0.138},{"x":0.788,"y":1.3125,"v":0.129},{"x":0.798,"y":1.3125,"v":0.116},{"x":0.808,"y":1.3125,"v":0.101},{"x":0.818,"y":1.3125,"v":0.084},{"x":0.825,"y":1.3125,"v":0.069},
{"x":0.604,"y":1.3375,"v":0.067},{"x":0.614,"y":1.3375,"v":0.092},{"x":0.624,"y":1.3375,"v":0.111},{"x":0.634,"y":1.3375,"v":0.127},{"x":0.644,"y":1.3375,"v":0.139},{"x":0.654,"y":1.3375,"v":0.146},{"x":0.664,"y":1.3375,"v":0.152},{"x":0.674,"y":1.3375,"v":0.157},{"x":0.684,"y":1.3375,"v":0.162},{"x":0.694,"y":1.3375,"v":0.166},{"x":0.704,"y":1.3375,"v":0.168},{"x":0.714,"y":1.3375,"v":0.168},{"x":0.724,"y":1.3375,"v":0.165},{"x":0.734,"y":1.3375,"v":0.162},{"x":0.744,"y":1.3375,"v":0.158},{"x":0.754,"y":1.3375,"v":0.154},{"x":0.764,"y":1.3375,"v":0.148},{"x":0.774,"y":1.3375,"v":0.142},{"x":0.784,"y":1.3375,"v":0.134},{"x":0.794,"y":1.3375,"v":0.120},{"x":0.804,"y":1.3375,"v":0.106},{"x":0.814,"y":1.3375,"v":0.088},{"x":0.823,"y":1.3375,"v":0.071},
{"x":0.599,"y":1.3625,"v":0.069},{"x":0.609,"y":1.3625,"v":0.093},{"x":0.619,"y":1.3625,"v":0.113},{"x":0.629,"y":1.3625,"v":0.129},{"x":0.639,"y":1.3625,"v":0.141},{"x":0.649,"y":1.3625,"v":0.149},{"x":0.659,"y":1.3625,"v":0.155},{"x":0.669,"y":1.3625,"v":0.161},{"x":0.679,"y":1.3625,"v":0.165},{"x":0.689,"y":1.3625,"v":0.169},{"x":0.699,"y":1.3625,"v":0.172},{"x":0.709,"y":1.3625,"v":0.172},{"x":0.719,"y":1.3625,"v":0.169},{"x":0.729,"y":1.3625,"v":0.166},{"x":0.739,"y":1.3625,"v":0.163},{"x":0.749,"y":1.3625,"v":0.158},{"x":0.759,"y":1.3625,"v":0.153},{"x":0.769,"y":1.3625,"v":0.147},{"x":0.779,"y":1.3625,"v":0.140},{"x":0.789,"y":1.3625,"v":0.127},{"x":0.799,"y":1.3625,"v":0.112},{"x":0.809,"y":1.3625,"v":0.097},{"x":0.819,"y":1.3625,"v":0.078},
{"x":0.595,"y":1.3875,"v":0.070},{"x":0.605,"y":1.3875,"v":0.095},{"x":0.615,"y":1.3875,"v":0.115},{"x":0.625,"y":1.3875,"v":0.132},{"x":0.635,"y":1.3875,"v":0.144},{"x":0.645,"y":1.3875,"v":0.152},{"x":0.655,"y":1.3875,"v":0.159},{"x":0.665,"y":1.3875,"v":0.164},{"x":0.675,"y":1.3875,"v":0.168},{"x":0.685,"y":1.3875,"v":0.173},{"x":0.695,"y":1.3875,"v":0.176},{"x":0.705,"y":1.3875,"v":0.176},{"x":0.715,"y":1.3875,"v":0.174},{"x":0.725,"y":1.3875,"v":0.171},{"x":0.735,"y":1.3875,"v":0.167},{"x":0.745,"y":1.3875,"v":0.163},{"x":0.755,"y":1.3875,"v":0.158},{"x":0.765,"y":1.3875,"v":0.152},{"x":0.775,"y":1.3875,"v":0.145},{"x":0.785,"y":1.3875,"v":0.133},{"x":0.795,"y":1.3875,"v":0.119},{"x":0.805,"y":1.3875,"v":0.104},{"x":0.815,"y":1.3875,"v":0.085},{"x":0.820,"y":1.3875,"v":0.074},
{"x":0.590,"y":1.4125,"v":0.073},{"x":0.600,"y":1.4125,"v":0.100},{"x":0.610,"y":1.4125,"v":0.121},{"x":0.620,"y":1.4125,"v":0.138},{"x":0.630,"y":1.4125,"v":0.149},{"x":0.640,"y":1.4125,"v":0.157},{"x":0.650,"y":1.4125,"v":0.162},{"x":0.660,"y":1.4125,"v":0.167},{"x":0.670,"y":1.4125,"v":0.172},{"x":0.680,"y":1.4125,"v":0.176},{"x":0.690,"y":1.4125,"v":0.179},{"x":0.700,"y":1.4125,"v":0.180},{"x":0.710,"y":1.4125,"v":0.178},{"x":0.720,"y":1.4125,"v":0.175},{"x":0.730,"y":1.4125,"v":0.172},{"x":0.740,"y":1.4125,"v":0.167},{"x":0.750,"y":1.4125,"v":0.163},{"x":0.760,"y":1.4125,"v":0.157},{"x":0.770,"y":1.4125,"v":0.151},{"x":0.780,"y":1.4125,"v":0.140},{"x":0.790,"y":1.4125,"v":0.126},{"x":0.800,"y":1.4125,"v":0.111},{"x":0.810,"y":1.4125,"v":0.092},{"x":0.818,"y":1.4125,"v":0.076},
{"x":0.586,"y":1.4375,"v":0.075},{"x":0.596,"y":1.4375,"v":0.106},{"x":0.606,"y":1.4375,"v":0.128},{"x":0.616,"y":1.4375,"v":0.144},{"x":0.626,"y":1.4375,"v":0.153},{"x":0.636,"y":1.4375,"v":0.159},{"x":0.646,"y":1.4375,"v":0.164},{"x":0.656,"y":1.4375,"v":0.170},{"x":0.666,"y":1.4375,"v":0.174},{"x":0.676,"y":1.4375,"v":0.179},{"x":0.686,"y":1.4375,"v":0.182},{"x":0.696,"y":1.4375,"v":0.183},{"x":0.706,"y":1.4375,"v":0.182},{"x":0.716,"y":1.4375,"v":0.178},{"x":0.726,"y":1.4375,"v":0.175},{"x":0.736,"y":1.4375,"v":0.171},{"x":0.746,"y":1.4375,"v":0.166},{"x":0.756,"y":1.4375,"v":0.160},{"x":0.766,"y":1.4375,"v":0.154},{"x":0.776,"y":1.4375,"v":0.144},{"x":0.786,"y":1.4375,"v":0.130},{"x":0.796,"y":1.4375,"v":0.115},{"x":0.806,"y":1.4375,"v":0.097},{"x":0.816,"y":1.4375,"v":0.075},
{"x":0.582,"y":1.4625,"v":0.077},{"x":0.592,"y":1.4625,"v":0.107},{"x":0.602,"y":1.4625,"v":0.129},{"x":0.612,"y":1.4625,"v":0.146},{"x":0.622,"y":1.4625,"v":0.157},{"x":0.632,"y":1.4625,"v":0.163},{"x":0.642,"y":1.4625,"v":0.166},{"x":0.652,"y":1.4625,"v":0.172},{"x":0.662,"y":1.4625,"v":0.177},{"x":0.672,"y":1.4625,"v":0.181},{"x":0.682,"y":1.4625,"v":0.185},{"x":0.692,"y":1.4625,"v":0.186},{"x":0.702,"y":1.4625,"v":0.185},{"x":0.712,"y":1.4625,"v":0.182},{"x":0.722,"y":1.4625,"v":0.179},{"x":0.732,"y":1.4625,"v":0.174},{"x":0.742,"y":1.4625,"v":0.170},{"x":0.752,"y":1.4625,"v":0.164},{"x":0.762,"y":1.4625,"v":0.158},{"x":0.772,"y":1.4625,"v":0.150},{"x":0.782,"y":1.4625,"v":0.136},{"x":0.792,"y":1.4625,"v":0.121},{"x":0.802,"y":1.4625,"v":0.104},{"x":0.812,"y":1.4625,"v":0.085},
{"x":0.577,"y":1.4875,"v":0.075},{"x":0.587,"y":1.4875,"v":0.107},{"x":0.597,"y":1.4875,"v":0.129},{"x":0.607,"y":1.4875,"v":0.146},{"x":0.617,"y":1.4875,"v":0.158},{"x":0.627,"y":1.4875,"v":0.164},{"x":0.637,"y":1.4875,"v":0.167},{"x":0.647,"y":1.4875,"v":0.173},{"x":0.657,"y":1.4875,"v":0.177},{"x":0.667,"y":1.4875,"v":0.182},{"x":0.677,"y":1.4875,"v":0.185},{"x":0.687,"y":1.4875,"v":0.187},{"x":0.697,"y":1.4875,"v":0.186},{"x":0.707,"y":1.4875,"v":0.183},{"x":0.717,"y":1.4875,"v":0.180},{"x":0.727,"y":1.4875,"v":0.176},{"x":0.737,"y":1.4875,"v":0.172},{"x":0.747,"y":1.4875,"v":0.167},{"x":0.757,"y":1.4875,"v":0.160},{"x":0.767,"y":1.4875,"v":0.153},{"x":0.777,"y":1.4875,"v":0.140},{"x":0.787,"y":1.4875,"v":0.126},{"x":0.797,"y":1.4875,"v":0.109},{"x":0.807,"y":1.4875,"v":0.091},{"x":0.813,"y":1.4875,"v":0.077}
]
},
"layer": [
{
"data": {"name": "bg"},
"mark": {"type": "rect"},
"encoding": {
"x": {"field": "x", "type": "quantitative", "scale": {"domain": [0, 1.5], "nice": false, "zero": false},
 "axis": {"values": [0.5, 1, 1.5], "format": "~g", "ticks": false, "domain": false, "grid": false, "labelFlush": false, "labelLimit": 2000, "labelFont": "Liberation Serif", "labelFontSize": 150, "labelColor": "#262626", "labelPadding": 73,
 "title": "J₁ / J₂", "titleFont": "Liberation Serif", "titleFontSize": 190, "titleFontStyle": "italic", "titleFontWeight": "normal", "titleColor": "#262626", "titlePadding": 50, "titleLimit": 3000}},
"x2": {"field": "x2"},
"y": {"field": "y", "type": "quantitative", "scale": {"domain": [0, 1.5], "nice": false, "zero": false},
 "axis": {"values": [0.5, 1, 1.5], "format": "~g", "ticks": false, "domain": false, "grid": false, "labelFlush": false, "labelLimit": 2000, "labelFont": "Liberation Serif", "labelFontSize": 150, "labelColor": "#262626", "labelPadding": 59,
 "title": "κᵥ", "titleFont": "Liberation Serif", "titleFontSize": 175, "titleFontStyle": "italic", "titleFontWeight": "normal", "titleColor": "#262626", "titlePadding": 98, "titleLimit": 3000}},
"y2": {"field": "y2"},
"color": {"field": "v", "type": "quantitative",
 "scale": {"type": "linear", "domain": [0,0.01171875,0.0234375,0.03515625,0.046875,0.05859375,0.0703125,0.08203125,0.09375,0.10546875,0.1171875,0.12890625,0.140625,0.15234375,0.1640625,0.17578125,0.1875], "range": ["#3e26a8","#4537d5","#484df0","#4563fd","#327cfc","#2b91ef","#20a5e3","#08b5d0","#19bfb6","#37c897","#64cd6f","#9dc943","#d1bf27","#f8ba3d","#fccf30","#f5e924","#f9fb15"], "interpolate": "rgb"},
 "legend": {"title": null, "orient": "right", "offset": 168, "direction": "vertical", "values": [0, 0.05, 0.1, 0.15], "format": "~g", "gradientLength": 1675, "gradientThickness": 130, "gradientStrokeColor": "#262626", "gradientStrokeWidth": 3, "labelFont": "Liberation Serif", "labelFontSize": 150, "labelColor": "#262626", "labelOffset": 52, "labelBaseline": "middle", "labelOverlap": false, "labelLimit": 2000, "padding": 0,
  "encode": {"labels": {"update": {"baseline": {"value": "middle"}}}}}}
}
},
{
"data": {"name": "cells"},
"mark": {"type": "point", "shape": "M-1,-1.706H1V1.706H-1Z", "size": 289, "filled": true, "opacity": 1, "strokeWidth": 0, "clip": true},
"encoding": {
"x": {"field": "x", "type": "quantitative", "scale": {"domain": [0, 1.5], "nice": false, "zero": false}},
"y": {"field": "y", "type": "quantitative", "scale": {"domain": [0, 1.5], "nice": false, "zero": false}},
"color": {"field": "v", "type": "quantitative"}
}
},
{
"data": {"name": "bg"},
"mark": {"type": "rect", "fillOpacity": 0, "stroke": "#262626", "strokeWidth": 3.5},
"encoding": {
"x": {"field": "x", "type": "quantitative"},
"x2": {"field": "x2"},
"y": {"field": "y", "type": "quantitative"},
"y2": {"field": "y2"}
}
}
]
}
